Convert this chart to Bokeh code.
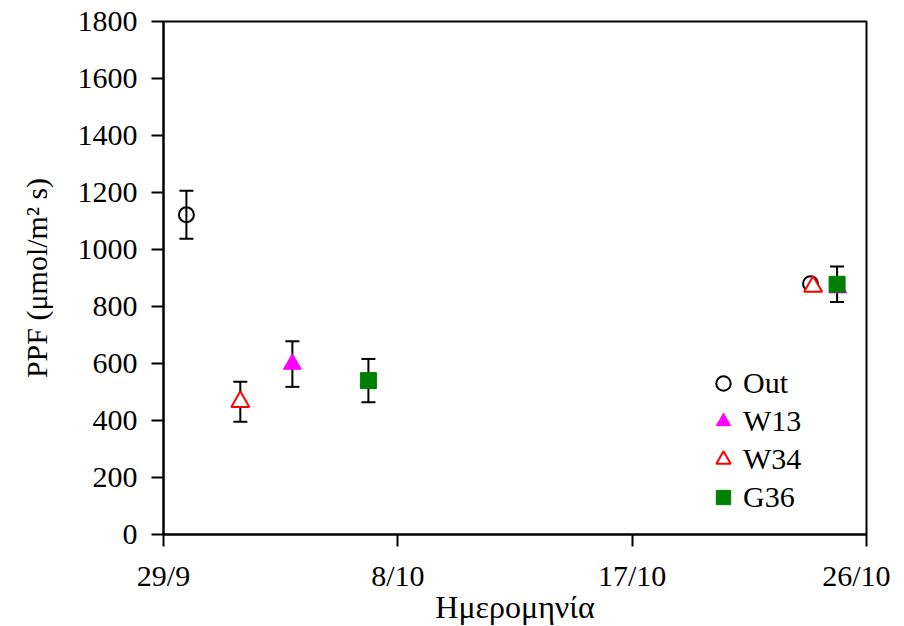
from bokeh.plotting import figure
from bokeh.models import (FixedTicker, Whisker, TeeHead, ColumnDataSource,
                          Legend, LegendItem, Range1d)
from bokeh.embed import file_html
from bokeh.resources import INLINE

# x positions are days after 29/9
tick_days = [0, 9, 18, 27]
tick_labels = ["29/9", "8/10", "17/10", "26/10"]
y_ticks = [0, 200, 400, 600, 800, 1000, 1200, 1400, 1600, 1800]

out_day = [0.88, 24.85]
out_ppf = [1122, 880]
out_err = [84, 0]

w13_day = [4.95, 25.9]
w13_ppf = [598, 866]
w13_err = [80, 0]

w34_day = [2.95, 24.95]
w34_ppf = [466, 870]
w34_err = [70, 0]

g36_day = [7.87, 25.87]
g36_ppf = [540, 878]
g36_err = [76, 62]

FONT = "Liberation Serif"
FS = "30px"

p = figure(frame_width=703, frame_height=513, output_backend="svg",
           toolbar_location=None, x_range=Range1d(0, 27), y_range=Range1d(0, 1800),
           min_border_left=163, min_border_top=21, min_border_right=24,
           min_border_bottom=80)
p.background_fill_color = "white"
p.border_fill_color = "white"
p.outline_line_color = "black"
p.outline_line_width = 2
p.xgrid.visible = False
p.ygrid.visible = False

p.xaxis.ticker = FixedTicker(ticks=tick_days)
p.xaxis.major_label_overrides = {d: l for d, l in zip(tick_days, tick_labels)}
p.yaxis.ticker = FixedTicker(ticks=y_ticks)
for ax in (p.xaxis, p.yaxis):
    ax.axis_line_color = "black"
    ax.axis_line_width = 2
    ax.major_tick_line_color = "black"
    ax.major_tick_line_width = 2
    ax.major_tick_out = 12
    ax.major_tick_in = 0
    ax.minor_tick_line_color = None
    ax.major_label_text_font = FONT
    ax.major_label_text_font_size = FS
    ax.major_label_text_color = "black"
    ax.axis_label_text_font = FONT
    ax.axis_label_text_font_size = FS
    ax.axis_label_text_font_style = "normal"
    ax.axis_label_text_color = "black"
p.xaxis.axis_label = "Ημερομηνία"
p.xaxis.axis_label_text_font_size = "32px"
p.yaxis.axis_label = "PPF (μmol/m² s)"
p.xaxis.major_label_standoff = 12
p.xaxis.axis_label_standoff = -6
p.yaxis.major_label_standoff = 14
p.yaxis.axis_label_standoff = 22

series = [
    ("Out", out_day, out_ppf, out_err),
    ("W13", w13_day, w13_ppf, w13_err),
    ("W34", w34_day, w34_ppf, w34_err),
    ("G36", g36_day, g36_ppf, g36_err),
]

for name, d, v, e in series:
    keep = [i for i in range(len(d)) if e[i] > 0]
    src = ColumnDataSource(dict(
        base=[d[i] for i in keep],
        upper=[v[i] + e[i] for i in keep],
        lower=[v[i] - e[i] for i in keep]))
    w = Whisker(source=src, base="base", upper="upper", lower="lower",
                line_color="black", line_width=2, level="underlay",
                upper_head=TeeHead(size=14, line_width=2, line_color="black"),
                lower_head=TeeHead(size=14, line_width=2, line_color="black"))
    p.add_layout(w)

r_out = p.scatter(out_day, out_ppf, marker="circle", size=15, fill_color=None,
                  line_color="black", line_width=2)
r_w13 = p.scatter(w13_day, w13_ppf, marker="triangle", size=18,
                  fill_color="#FF00FF", line_color="#FF00FF", line_width=1)
r_w34 = p.scatter(w34_day, w34_ppf, marker="triangle", size=18,
                  fill_color="white", line_color="#FF0000", line_width=2)
r_g36 = p.scatter(g36_day, g36_ppf, marker="square", size=16,
                  fill_color="#008000", line_color="#008000", line_width=1)

legend = Legend(items=[LegendItem(label="Out", renderers=[r_out]),
                       LegendItem(label="W13", renderers=[r_w13]),
                       LegendItem(label="W34", renderers=[r_w34]),
                       LegendItem(label="G36", renderers=[r_g36])],
                location=(542, 19), border_line_color=None,
                background_fill_alpha=0, padding=0, margin=0, spacing=2,
                label_standoff=2, glyph_width=36, glyph_height=36,
                label_height=30, label_text_font=FONT, label_text_font_size=FS,
                label_text_color="black")
p.add_layout(legend, "center")

open("out.html", "w").write(file_html(p, INLINE))
